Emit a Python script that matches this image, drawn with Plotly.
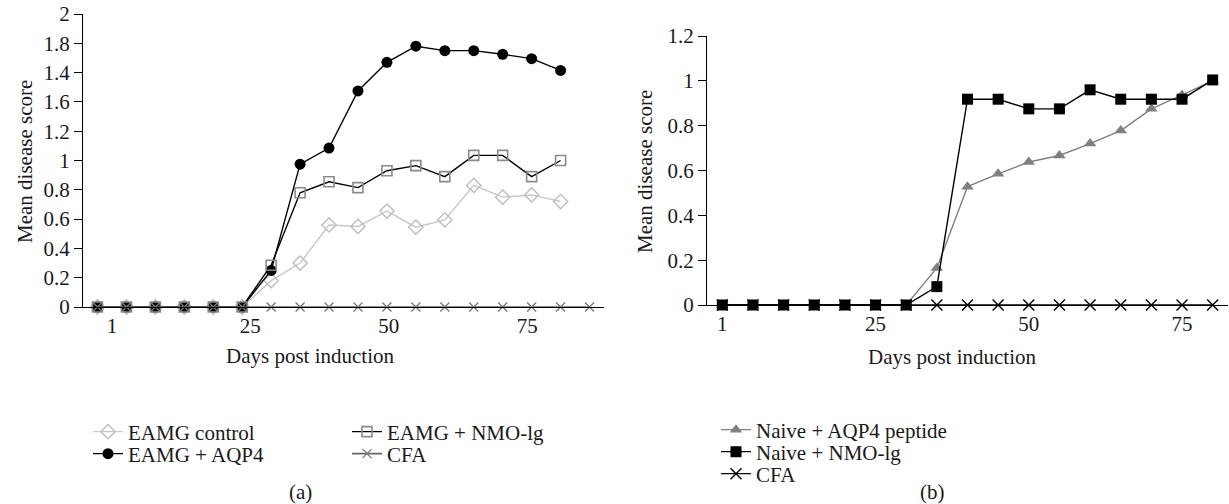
import plotly.graph_objects as go

# ---- Panel (a) data: sampling points (index along x), mean disease score ----
pts_a = list(range(18))
eamg_control = [0, 0, 0, 0, 0, 0, 0.18, 0.30, 0.56, 0.55, 0.655, 0.545, 0.595, 0.83, 0.75, 0.765, 0.72]
eamg_nmo = [0, 0, 0, 0, 0, 0, 0.285, 0.78, 0.855, 0.815, 0.93, 0.965, 0.89, 1.035, 1.035, 0.89, 1.0]
eamg_aqp4 = [0, 0, 0, 0, 0, 0, 0.25, 0.975, 1.085, 1.475, 1.67, 1.78, 1.75, 1.75, 1.725, 1.695, 1.615]
cfa_a = [0] * 18
x_ticks_a = [0.5, 5.28, 10.06, 14.85]
x_text_a = ["1", "25", "50", "75"]
y_ticks_a = [0, 0.2, 0.4, 0.6, 0.8, 1, 1.2, 1.4, 1.6, 1.8, 2]
y_text_a = ["0", "0.2", "0.4", "0.6", "0.8", "1", "1.2", "1.6", "1.4", "1.8", "2"]

# ---- Panel (b) data ----
pts_b = list(range(17))
naive_aqp4 = [0, 0, 0, 0, 0, 0, 0, 0.165, 0.528, 0.585, 0.638, 0.667, 0.72, 0.778, 0.875, 0.937, 1.0]
naive_nmo = [0, 0, 0, 0, 0, 0, 0, 0.082, 0.918, 0.918, 0.875, 0.875, 0.96, 0.918, 0.918, 0.918, 1.004]
cfa_b = [0] * 17
x_ticks_b = [0, 5, 10, 15]
x_text_b = ["1", "25", "50", "75"]
y_ticks_b = [0, 0.2, 0.4, 0.6, 0.8, 1, 1.2]
y_text_b = ["0", "0.2", "0.4", "0.6", "0.8", "1", "1.2"]

X_TITLE = "Days post induction"
Y_TITLE = "Mean disease score"

FONT = "Liberation Serif"
FS = 21
OFF = 0                      # body margin removed via post_script
W, H = 1229 - OFF, 504 - OFF
ML, MR, MT, MB = 83 - OFF, 1, 14 - OFF, H - (307 - OFF)
PW, PH = W - ML - MR, H - MT - MB


def px_x(p):                 # screen pixel -> paper x
    return (p - OFF - ML) / PW


def px_y(p):                 # screen pixel -> paper y
    return (H - MB - (p - OFF)) / PH


def leg(xpx, ypx):
    # single-entry legend positioned in container coordinates
    return dict(x=(xpx - OFF) / W, y=1 - (ypx - OFF) / H, xref="container", yref="container",
                xanchor="left", yanchor="middle", bgcolor="rgba(0,0,0,0)",
                font=dict(family=FONT, size=FS, color="#1a1a1a"), itemwidth=30, borderwidth=0)


def label(text, xs, ys, angle=0):
    return dict(text=text, x=px_x(xs), y=px_y(ys), xref="paper", yref="paper", showarrow=False,
                xanchor="center", yanchor="middle", textangle=angle,
                font=dict(family=FONT, size=FS, color="#1a1a1a"))


fig = go.Figure()

# Panel (a)
fig.add_trace(go.Scatter(x=pts_a[:len(eamg_control)], y=eamg_control, name="EAMG control", mode="lines+markers",
                         line=dict(color="#c8c8c8", width=1.4),
                         marker=dict(symbol="diamond-open", size=11, color="#bdbdbd", line=dict(width=1.4)),
                         xaxis="x", yaxis="y", legend="legend", showlegend=True, cliponaxis=False))
fig.add_trace(go.Scatter(x=pts_a[:len(eamg_aqp4)], y=eamg_aqp4, name="EAMG + AQP4", mode="lines+markers",
                         line=dict(color="#000000", width=1.4),
                         marker=dict(symbol="circle", size=11, color="#000000"),
                         xaxis="x", yaxis="y", legend="legend2", cliponaxis=False))
fig.add_trace(go.Scatter(x=pts_a[:len(eamg_nmo)], y=eamg_nmo, name="EAMG + NMO-lg", mode="lines+markers",
                         line=dict(color="#000000", width=1.4),
                         marker=dict(symbol="square-open", size=10, color="#8a8a8a", line=dict(width=1.6)),
                         xaxis="x", yaxis="y", legend="legend3", cliponaxis=False))
fig.add_trace(go.Scatter(x=pts_a, y=cfa_a, name="CFA", mode="lines+markers",
                         line=dict(color="#666666", width=1.6),
                         marker=dict(symbol="x-thin-open", size=9, color="#777777", line=dict(width=1.3)),
                         xaxis="x", yaxis="y", legend="legend4", cliponaxis=False))

# Panel (b)
fig.add_trace(go.Scatter(x=pts_b, y=naive_aqp4, name="Naive + AQP4 peptide", mode="lines+markers",
                         line=dict(color="#808080", width=1.4),
                         marker=dict(symbol="triangle-up", size=11, color="#808080"),
                         xaxis="x2", yaxis="y2", legend="legend5", cliponaxis=False))
fig.add_trace(go.Scatter(x=pts_b, y=naive_nmo, name="Naive + NMO-lg", mode="lines+markers",
                         line=dict(color="#000000", width=1.4),
                         marker=dict(symbol="square", size=11, color="#000000"),
                         xaxis="x2", yaxis="y2", legend="legend6", cliponaxis=False))
fig.add_trace(go.Scatter(x=pts_b, y=cfa_b, name="CFA", mode="lines+markers",
                         line=dict(color="#000000", width=1.4),
                         marker=dict(symbol="x-thin-open", size=11, color="#000000", line=dict(width=1.4)),
                         xaxis="x2", yaxis="y2", legend="legend7", cliponaxis=False))

axis_common = dict(showgrid=False, zeroline=False, showline=True, linecolor="#000000", linewidth=1.3,
                   ticklabeloverflow="allow",
                   tickfont=dict(family=FONT, size=FS, color="#1a1a1a"))

fig.update_layout(
    width=W, height=H,
    margin=dict(l=ML, r=MR, t=MT, b=MB, autoexpand=False),
    showlegend=True,
    paper_bgcolor="white", plot_bgcolor="white",
    font=dict(family=FONT, size=FS, color="#1a1a1a"),
    xaxis=dict(domain=[0, px_x(604)], range=[-0.5, 17.5], tickvals=x_ticks_a, ticktext=x_text_a,
               ticks="", anchor="y", **axis_common),
    yaxis=dict(domain=[0, 1], range=[0, 2], tickvals=y_ticks_a, ticktext=y_text_a, ticks="outside",
               ticklen=8, tickcolor="#000000", anchor="x", **axis_common),
    xaxis2=dict(domain=[px_x(707), 1], range=[-0.5, 16.5], tickvals=x_ticks_b, ticktext=x_text_b,
                ticks="", anchor="y2", **axis_common),
    yaxis2=dict(domain=[px_y(305), px_y(36)], range=[0, 1.2], tickvals=y_ticks_b, ticktext=y_text_b,
                ticks="outside", ticklen=8, tickcolor="#000000", anchor="x2", **axis_common),
    legend=leg(88, 432),
    legend2=leg(88, 454),
    legend3=leg(347, 432),
    legend4=leg(347, 454),
    legend5=leg(716, 430),
    legend6=leg(716, 452),
    legend7=leg(716, 474),
    annotations=[
        label(X_TITLE, 310, 356),
        label(X_TITLE, 952, 357),
        label(Y_TITLE, 25, 162, -90),
        label(Y_TITLE, 645, 172, -90),
        label("(a)", 300, 492),
        label("(b)", 932, 492),
    ],
)

fig.write_html("out.html", config={"displayModeBar": False},
               post_script="document.body.style.margin='0';document.body.style.overflow='hidden';")
